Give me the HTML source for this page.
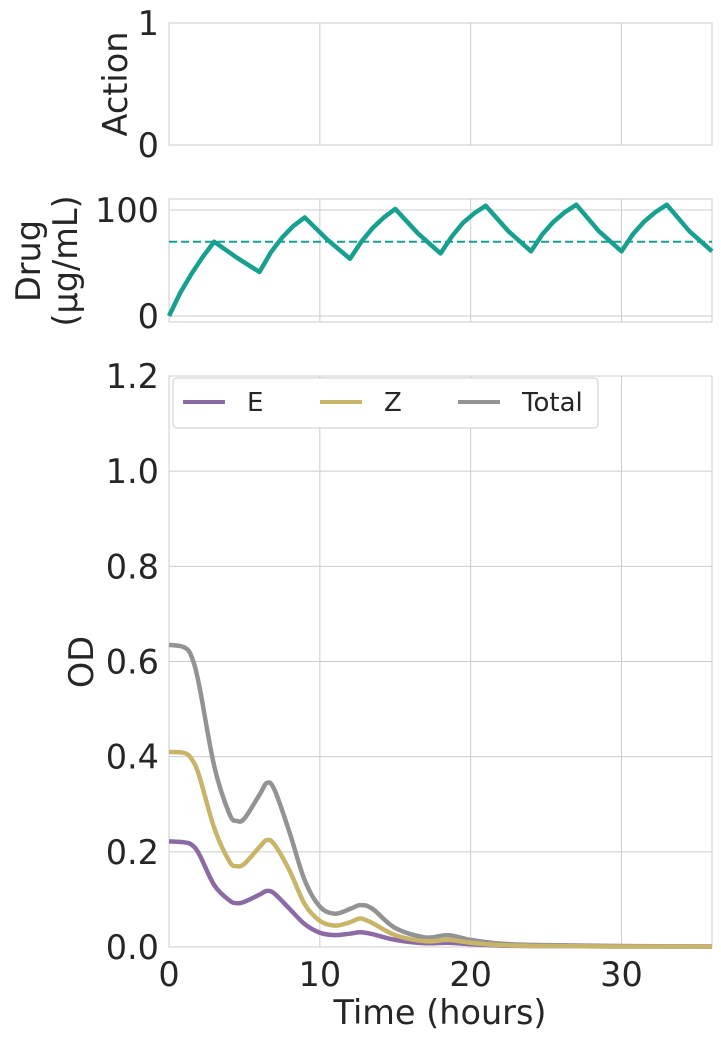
<!DOCTYPE html>
<html><head><meta charset="utf-8"><style>
body{margin:0;background:#fff;}
svg{display:block;font-family:"DejaVu Sans","Liberation Sans",sans-serif;}
</style></head><body>
<svg id="c" width="721" height="1040" viewBox="0 0 721 1040"></svg>
<script>
const drugTimes=[0,0.75,1.5,2.25,3,4.5,6,6.75,7.5,8.25,9,10.5,12,12.75,13.5,14.25,15,16.5,18,18.75,19.5,20.25,21,22.5,24,24.75,25.5,26.25,27,28.5,30,30.75,31.5,32.25,33,34.5,36];
const drugValues=[0,22,40,56,70,55,41.5,60,74,85,93,72,54,70,83,93,101,78,59,75,88,97,104,80,61,77,89,98,105,80,61,77,89,98,105,80,61];
const drugTarget=70;
const odTimes=[0,1,1.5,2,3,4,4.5,5,6,6.5,7,8,9,10,11,12,12.7,13.5,15,17,18.5,20,22,25,30,36];
const odTotal=[.635,.63,.61,.55,.38,.28,.265,.27,.32,.345,.33,.24,.14,.085,.07,.08,.088,.08,.04,.02,.025,.015,.007,.004,.002,.001];
const odZ=[.41,.408,.395,.36,.25,.18,.17,.175,.21,.225,.215,.16,.09,.055,.045,.052,.06,.05,.025,.012,.015,.009,.004,.002,.001,.001];
const odE=[.222,.22,.215,.195,.13,.098,.092,.095,.11,.118,.112,.08,.048,.03,.025,.028,.031,.027,.015,.008,.009,.006,.003,.002,.001,.001];
const xTicks=[0,10,20,30];
const odTicks=[0,0.2,0.4,0.6,0.8,1.0,1.2];
const drugTicks=[0,100];
const actionTicks=[0,1];

const NS="http://www.w3.org/2000/svg";
const svg=document.getElementById('c');
function mk(t,a,p){const e=document.createElementNS(NS,t);for(const k in a)e.setAttribute(k,a[k]);(p||svg).appendChild(e);return e;}
const X=t=>169+t*(712-169)/36;
const L=169,R=712;
const yA=v=>145-v*(145-23);
const yD=v=>316-v*(316-210)/100;
const yO=v=>947-v*(947-376)/1.2;
const FS=33.5;

function frame(top,bot,name){
  const r=mk('rect',{x:L,y:top,width:R-L,height:bot-top,fill:'none',stroke:'#cccccc','stroke-width':1});
  
  
  xTicks.forEach(t=>{if(t>0){const g=mk('line',{x1:X(t),x2:X(t),y1:top,y2:bot,stroke:'#cccccc','stroke-width':1});
    
    }});
}
function ytick(y,label,name){
  const g=mk('line',{x1:L,x2:R,y1:y,y2:y,stroke:'#cccccc','stroke-width':1});
  
  
  const t=mk('text',{x:159,y:y+12,'text-anchor':'end','font-size':FS,fill:'#262626'});t.textContent=label;
  
  
}
function label(x,y,txt,name,rot){
  const t=mk('text',{x:x,y:y,'text-anchor':'middle','font-size':FS,fill:'#262626',transform:rot?`rotate(-90 ${x} ${y})`:''});t.textContent=txt;
  
  
}
frame(23,145,'action-panel');
actionTicks.forEach(v=>{const t=mk('text',{x:159,y:yA(v)+12,'text-anchor':'end','font-size':FS,fill:'#262626'});t.textContent=v;
  
  });
label(127,84,'Action','action-axis-title',true);
frame(199,322,'drug-panel');
drugTicks.forEach(v=>ytick(yD(v),v,'drug-tick'));
label(40,261,'Drug','drug-axis-title',true);
label(77,261,'(µg/mL)','drug-axis-unit',true);
const dl=mk('line',{x1:L,x2:R,y1:yD(drugTarget),y2:yD(drugTarget),stroke:'#17a090','stroke-width':2,'stroke-dasharray':'8,4'});


const dp=mk('polyline',{points:drugTimes.map((t,i)=>X(t)+','+yD(drugValues[i])).join(' '),fill:'none',stroke:'#17a090','stroke-width':4.5,'stroke-linejoin':'round'});


frame(376,947,'od-panel');
odTicks.forEach(v=>ytick(yO(v),v.toFixed(1),'od-tick'));
xTicks.forEach(v=>{const t=mk('text',{x:X(v),y:986,'text-anchor':'middle','font-size':FS,fill:'#262626'});t.textContent=v;
  
  });
label(93,662,'OD','od-axis-title',true);
label(440,1024,'Time (hours)','x-axis-title',false);
function smooth(xs,ys){
  const p=xs.map((t,i)=>[X(t),yO(ys[i])]);
  let d='M'+p[0][0]+','+p[0][1];
  for(let i=0;i<p.length-1;i++){
    const p0=p[Math.max(0,i-1)],p1=p[i],p2=p[i+1],p3=p[Math.min(p.length-1,i+2)];
    const c1=[p1[0]+(p2[0]-p0[0])/6,p1[1]+(p2[1]-p0[1])/6];
    const c2=[p2[0]-(p3[0]-p1[0])/6,p2[1]-(p3[1]-p1[1])/6];
    d+=` C${c1[0]},${c1[1]} ${c2[0]},${c2[1]} ${p2[0]},${p2[1]}`;
  }
  return d;
}
const series=[[odTotal,'#939393','total-line'],[odE,'#8c6aa3','e-line'],[odZ,'#c9b56a','z-line']];
series.forEach(s=>{const p=mk('path',{d:smooth(odTimes,s[0]),fill:'none',stroke:s[1],'stroke-width':4.5});
  
  });
const lg=mk('g',{});


mk('rect',{x:173,y:378,width:425,height:50,rx:4,fill:'#fff',stroke:'#cccccc','stroke-width':1},lg);
[['E','#8c6aa3',183],['Z','#c9b56a',320],['Total','#939393',458]].forEach(e=>{
  const g=mk('g',{},lg);
  
  
  mk('line',{x1:e[2],x2:e[2]+42,y1:402,y2:402,stroke:e[1],'stroke-width':4},g);
  const t=mk('text',{x:e[2]+64,y:411,'font-size':26,fill:'#262626'},g);t.textContent=e[0];
});
</script>
</body></html>
